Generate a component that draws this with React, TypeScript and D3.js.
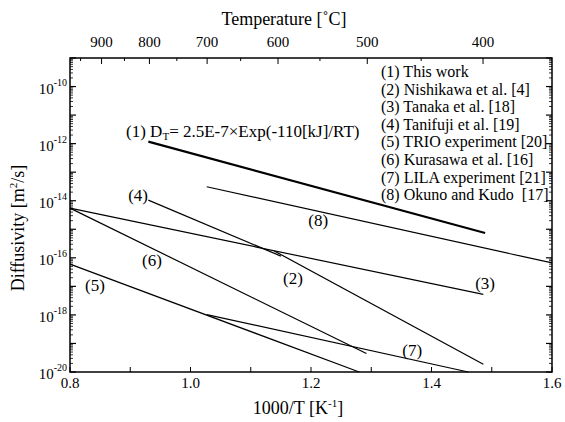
import React, { useEffect, useRef } from "react";
import * as d3 from "d3";

// series endpoints (1000/T in K^-1, log10 of diffusivity in m^2/s)
const seriesIds = ["1", "2", "3", "4", "5", "6", "7", "8"];
const seriesNames = [
  "(1) This work",
  "(2) Nishikawa et al. [4]",
  "(3) Tanaka et al. [18]",
  "(4) Tanifuji et al. [19]",
  "(5) TRIO experiment [20]",
  "(6) Kurasawa et al. [16]",
  "(7) LILA experiment [21]",
  "(8) Okuno and Kudo  [17]",
];
const invTStart = [0.93, 1.139, 0.8, 0.93, 0.8, 0.8, 1.027, 1.027];
const invTEnd = [1.489, 1.486, 1.486, 1.15, 1.28, 1.292, 1.461, 1.6];
const logDStart = [-11.93, -15.76, -14.26, -13.98, -16.22, -14.26, -17.99, -13.51];
const logDEnd = [-15.13, -19.73, -17.28, -15.94, -20.0, -19.35, -20.0, -16.18];

// where the "(n)" tags sit on the chart
const tagIds = ["2", "3", "4", "5", "6", "7", "8"];
const tagInvT = [1.17, 1.489, 0.913, 0.8415, 0.936, 1.368, 1.212];
const tagLogD = [-16.71, -16.88, -13.8, -16.95, -16.08, -19.23, -14.68];

const xTicks = [0.8, 0.9, 1.0, 1.1, 1.2, 1.3, 1.4, 1.5, 1.6];
const xLabels = [0.8, 1.0, 1.2, 1.4, 1.6];
const celsiusTicks = [950, 900, 850, 800, 750, 700, 650, 600, 550, 500, 450, 400];
const celsiusLabels = [900, 800, 700, 600, 500, 400];
const decades = [-20, -19, -18, -17, -16, -15, -14, -13, -12, -11, -10, -9];
const decadeLabels = [-20, -18, -16, -14, -12, -10];

const App = () => {
  const svgRef = useRef<SVGSVGElement>(null);

  useEffect(() => {
    const svg = d3.select(svgRef.current);
    svg.selectAll("*").remove();

    const left = 70, right = 552, top = 58, bottom = 372;

    const x = d3.scaleLinear().domain([0.8, 1.6]).range([left, right]);
    const y = d3.scaleLog().domain([1e-20, 1e-9]).range([bottom, top]);

    const g = svg.append("g")
      .style("font-family", "\"Liberation Serif\", \"DejaVu Serif\", serif")
      .attr("fill", "#000");

    // bottom ticks
    xTicks.forEach((t) => {
      g.append("line")
        .attr("x1", x(t)).attr("x2", x(t))
        .attr("y1", bottom).attr("y2", bottom - 5)
        .attr("stroke", "#000").attr("stroke-width", 1);
    });
    xLabels.forEach((t) => {
      g.append("text")
        .attr("x", x(t)).attr("y", bottom + 16)
        .attr("text-anchor", "middle").attr("font-size", 15)
        .text(t.toFixed(1));
    });

    // top ticks, temperature in Celsius
    celsiusTicks.forEach((c) => {
      const v = 1000 / (c + 273.15);
      const major = celsiusLabels.includes(c);
      g.append("line")
        .attr("x1", x(v)).attr("x2", x(v))
        .attr("y1", top).attr("y2", top + (major ? 6 : 3))
        .attr("stroke", "#000").attr("stroke-width", 1);
    });
    celsiusLabels.forEach((c) => {
      const v = 1000 / (c + 273.15);
      g.append("text")
        .attr("x", x(v)).attr("y", top - 11)
        .attr("text-anchor", "middle").attr("font-size", 15)
        .text(c);
    });

    // log ticks, left and right
    decades.forEach((e) => {
      [left, right].forEach((ax) => {
        const dir = ax === left ? 1 : -1;
        g.append("line")
          .attr("x1", ax).attr("x2", ax + dir * 6)
          .attr("y1", y(Math.pow(10, e))).attr("y2", y(Math.pow(10, e)))
          .attr("stroke", "#000").attr("stroke-width", 1.2);
        if (e < -9) {
          for (let m = 2; m <= 9; m++) {
            const yy = y(m * Math.pow(10, e));
            g.append("line")
              .attr("x1", ax).attr("x2", ax + dir * 3)
              .attr("y1", yy).attr("y2", yy)
              .attr("stroke", "#000").attr("stroke-width", 0.8);
          }
        }
      });
    });
    decadeLabels.forEach((e) => {
      const t = g.append("text")
        .attr("x", left - 3).attr("y", y(Math.pow(10, e)) + 7)
        .attr("text-anchor", "end").attr("font-size", 15);
      t.append("tspan").text("10");
      t.append("tspan").attr("font-size", 10).attr("dy", -8).text(String(e));
    });

    // frame
    g.append("rect")
      .attr("x", left).attr("y", top)
      .attr("width", right - left).attr("height", bottom - top)
      .attr("fill", "none").attr("stroke", "#000").attr("stroke-width", 1.5);

    // series lines
    seriesIds.forEach((id, i) => {
      g.append("line")
        .attr("x1", x(invTStart[i])).attr("y1", y(Math.pow(10, logDStart[i])))
        .attr("x2", x(invTEnd[i])).attr("y2", y(Math.pow(10, logDEnd[i])))
        .attr("stroke", "#000")
        .attr("stroke-width", id === "1" ? 2.2 : 1.2);
    });

    // tags
    tagIds.forEach((id, i) => {
      g.append("text")
        .attr("x", x(tagInvT[i])).attr("y", y(Math.pow(10, tagLogD[i])) + 6)
        .attr("text-anchor", "middle").attr("font-size", 17)
        .text(`(${id})`);
    });

    // equation for line (1)
    const eq = g.append("text")
      .attr("x", x(0.893)).attr("y", y(Math.pow(10, -11.77)))
      .attr("font-size", 17);
    eq.append("tspan").text("(1) D");
    eq.append("tspan").attr("font-size", 11).attr("dy", 3).text("T");
    eq.append("tspan").attr("dy", -3).text("= 2.5E-7\u00d7Exp(-110[kJ]/RT)");

    // legend
    seriesNames.forEach((name, i) => {
      g.append("text")
        .attr("x", 381).attr("y", 77 + i * 17.6)
        .attr("font-size", 16)
        .style("white-space", "pre")
        .text(name);
    });

    // axis titles
    g.append("text")
      .attr("x", 284).attr("y", 25)
      .attr("text-anchor", "middle").attr("font-size", 18)
      .text("Temperature [\u02daC]");

    const xt = g.append("text")
      .attr("x", 298).attr("y", 414)
      .attr("text-anchor", "middle").attr("font-size", 18);
    xt.append("tspan").text("1000/T [K");
    xt.append("tspan").attr("font-size", 11).attr("dy", -7).text("-1");
    xt.append("tspan").attr("dy", 7).text("]");

    const yt = g.append("text")
      .attr("transform", "translate(24,228) rotate(-90)")
      .attr("text-anchor", "middle").attr("font-size", 18);
    yt.append("tspan").text("Diffusivity [m");
    yt.append("tspan").attr("font-size", 11).attr("dy", -7).text("2");
    yt.append("tspan").attr("dy", 7).text("/s]");
  }, []);

  return (
    <svg
      ref={svgRef}
      width={565}
      height={422}
      style={{ position: "absolute", left: 0, top: 0, background: "#fff" }}
    />
  );
};

export default App;
